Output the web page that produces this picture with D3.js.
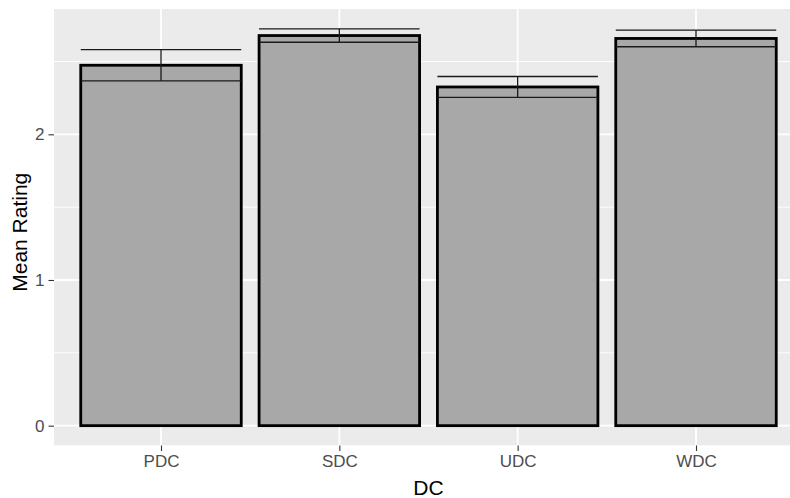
<!DOCTYPE html>
<html>
<head>
<meta charset="utf-8">
<script src="https://cdn.jsdelivr.net/npm/d3@7"></script>
<style>
  html, body { margin: 0; padding: 0; background: #ffffff; }
  svg { display: block; }
  text { font-family: "Liberation Sans", Arial, sans-serif; }
</style>
</head>
<body>
<svg id="chart" width="790" height="498"></svg>
<script>
// Mean rating per DC group, with standard-error half widths
const categories = ["PDC", "SDC", "UDC", "WDC"];
const meanRating = [2.474, 2.678, 2.325, 2.658];
const stdError   = [0.107, 0.046, 0.072, 0.057];
const yTicks = [0, 1, 2];
const yMinorTicks = [0.5, 1.5, 2.5];

const W = 790, H = 498;
const panel = { left: 54, top: 9, right: 803, bottom: 445.5 };

const svg = d3.select("#chart");

const rows = categories.map((c, i) => ({
  cat: c, pos: i + 1, mean: meanRating[i],
  lo: meanRating[i] - stdError[i], hi: meanRating[i] + stdError[i]
}));

// discrete x positions 1..n with 0.6 units of padding on each side
const x = d3.scaleLinear()
  .domain([0.4, categories.length + 0.6])
  .range([panel.left, panel.right]);

// continuous y with 5% expansion on each side of [0, max]
const yMax = d3.max(rows, d => d.hi);
const y = d3.scaleLinear()
  .domain([-0.05 * yMax, 1.05 * yMax])
  .range([panel.bottom, panel.top]);

const clip = svg.append("defs").append("clipPath").attr("id", "panelClip")
  .append("rect")
  .attr("x", panel.left).attr("y", panel.top)
  .attr("width", panel.right - panel.left).attr("height", panel.bottom - panel.top);

const g = svg.append("g").attr("clip-path", "url(#panelClip)");

// panel background
g.append("rect")
  .attr("x", panel.left).attr("y", panel.top)
  .attr("width", panel.right - panel.left).attr("height", panel.bottom - panel.top)
  .attr("fill", "#EBEBEB");

// minor grid
g.selectAll("line.ygridMinor").data(yMinorTicks).join("line")
  .attr("x1", panel.left).attr("x2", panel.right)
  .attr("y1", d => y(d)).attr("y2", d => y(d))
  .attr("stroke", "#ffffff").attr("stroke-width", 0.9);

// major grid
g.selectAll("line.ygrid").data(yTicks).join("line")
  .attr("x1", panel.left).attr("x2", panel.right)
  .attr("y1", d => y(d)).attr("y2", d => y(d))
  .attr("stroke", "#ffffff").attr("stroke-width", 1.8);

g.selectAll("line.xgrid").data(rows).join("line")
  .attr("x1", d => x(d.pos)).attr("x2", d => x(d.pos))
  .attr("y1", panel.top).attr("y2", panel.bottom)
  .attr("stroke", "#ffffff").attr("stroke-width", 1.8);

// bars
const barW = 0.9;
g.selectAll("rect.bar").data(rows).join("rect")
  .attr("class", "bar")
  .attr("x", d => x(d.pos - barW / 2))
  .attr("width", d => x(d.pos + barW / 2) - x(d.pos - barW / 2))
  .attr("y", d => y(d.mean))
  .attr("height", d => y(0) - y(d.mean))
  .attr("fill", "#A8A8A8")
  .attr("stroke", "#000000")
  .attr("stroke-width", 2.8);

// error bars
const errW = 0.9;
const eb = g.selectAll("g.err").data(rows).join("g")
  .attr("fill", "none").attr("stroke", "#1a1a1a").attr("stroke-width", 1.3);
eb.append("line")
  .attr("x1", d => x(d.pos)).attr("x2", d => x(d.pos))
  .attr("y1", d => y(d.lo)).attr("y2", d => y(d.hi));
eb.append("line")
  .attr("x1", d => x(d.pos - errW / 2)).attr("x2", d => x(d.pos + errW / 2))
  .attr("y1", d => y(d.hi)).attr("y2", d => y(d.hi));
eb.append("line")
  .attr("x1", d => x(d.pos - errW / 2)).attr("x2", d => x(d.pos + errW / 2))
  .attr("y1", d => y(d.lo)).attr("y2", d => y(d.lo));

// y axis
const yAxis = svg.append("g")
  .attr("transform", `translate(${panel.left},0)`)
  .call(d3.axisLeft(y).tickValues(yTicks).tickFormat(d3.format("d")).tickSize(5.5).tickPadding(4));
yAxis.select(".domain").remove();
yAxis.selectAll(".tick line").attr("stroke", "#333333").attr("stroke-width", 1.1);
yAxis.selectAll(".tick text")
  .attr("fill", "#4D4D4D").attr("font-size", 17)
  .attr("font-family", "Liberation Sans, Arial, sans-serif");

// x axis
const xAxis = svg.append("g")
  .attr("transform", `translate(0,${panel.bottom})`)
  .call(d3.axisBottom(x).tickValues(rows.map(d => d.pos))
    .tickFormat(p => categories[p - 1]).tickSize(5.5).tickPadding(4));
xAxis.select(".domain").remove();
xAxis.selectAll(".tick line").attr("stroke", "#333333").attr("stroke-width", 1.1);
xAxis.selectAll(".tick text")
  .attr("fill", "#4D4D4D").attr("font-size", 17)
  .attr("font-family", "Liberation Sans, Arial, sans-serif");

// axis titles
svg.append("text")
  .attr("x", (panel.left + panel.right) / 2 + 0).attr("y", 495)
  .attr("text-anchor", "middle")
  .attr("font-size", 21).attr("fill", "#000000")
  .text("DC");

svg.append("text")
  .attr("transform", `translate(27,${(panel.top + panel.bottom) / 2 + 5}) rotate(-90)`)
  .attr("text-anchor", "middle")
  .attr("font-size", 21).attr("fill", "#000000")
  .text("Mean Rating");
</script>
</body>
</html>
